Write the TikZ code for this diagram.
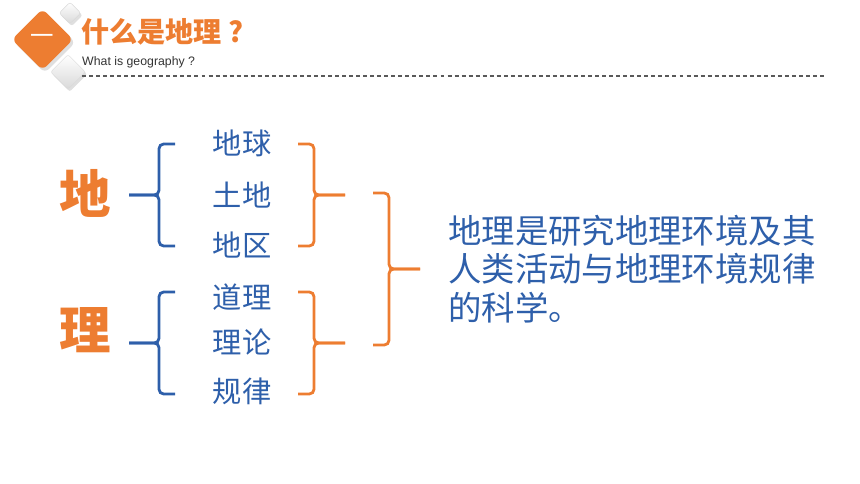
\documentclass[tikz,border=0pt]{standalone}
\usepackage{fontspec}
\setmainfont{Liberation Sans}
\newfontfamily\cjk{Noto Sans CJK SC}
\usepackage{tikz}
\usetikzlibrary{shadows}
\definecolor{geoorange}{HTML}{ED7D31}
\definecolor{geoblue}{HTML}{2E5FAA}
\tikzset{
every picture/.style={x=0.03cm, y=-0.03cm},
bluebr/.style={draw=geoblue, line width=2.4pt, rounded corners=4pt},
orangebr/.style={draw=geoorange, line width=2.4pt, rounded corners=4pt},
item/.style={text=geoblue, font=\cjk\fontsize{25}{28}\selectfont, inner sep=0pt},
big/.style={text=geoorange, font=\cjk\bfseries\fontsize{44}{48}\selectfont, inner sep=0pt},
gem/.style={rectangle, rotate=45, rounded corners=2pt, draw=gray!30, top color=white, bottom color=gray!30,
  drop shadow={opacity=0.25, shadow xshift=1.5pt, shadow yshift=-2pt}}
}

\begin{document}
\begin{tikzpicture}
      \useasboundingbox (0,0) rectangle (860,484);
      \node[gem, minimum size=13pt] (gem1) at (70,13) {};
      \node[gem, minimum size=21pt] (gem2) at (68,72) {};
      \node[rectangle, rotate=45, minimum size=37pt, rounded corners=5pt, fill=geoorange,
        drop shadow={opacity=0.25, shadow xshift=2pt, shadow yshift=-2.5pt}] (tag) at (42.5,39.5) {};
      \node[text=white, font=\cjk\fontsize{20}{20}\selectfont, inner sep=0pt] (tagnum) at (tag.center) {一};
      \node[anchor=west, text=geoorange, font=\cjk\bfseries\fontsize{24}{26}\selectfont, inner sep=0pt] (title) at (81,32) {什么是地理 ?};
      \node[anchor=west, text=black!80, font=\fontsize{10.5}{12}\selectfont, inner sep=0pt] (sub) at (82,62) {What is geography ?};
      \coordinate (dashend) at (827,76);
      \draw[gray!70!black, line width=1pt, dash pattern=on 3.4pt off 2.6pt] (sub.west |- dashend) -- (dashend);
      \node[big] (di) at (85,193) {地};
      \node[big] (li) at (85,330) {理};
      \foreach \name/\t/\y in {d1/地球/143, d2/土地/195, d3/地区/245, l1/道理/297, l2/理论/342, l3/规律/391} {
        \node[item] (\name) at (242,\y) {\t};
      }
      \foreach \c in {195,343} {
        \draw[bluebr] (175,\c-51) -- (159,\c-51) -- (159,\c) -- (129,\c);
        \draw[bluebr] (175,\c+51) -- (159,\c+51) -- (159,\c) -- (129,\c);
        \draw[orangebr] (298,\c-51) -- (314,\c-51) -- (314,\c) -- (345,\c);
        \draw[orangebr] (298,\c+51) -- (314,\c+51) -- (314,\c) -- (345,\c);
      }
      \draw[orangebr] (373,193) -- (389,193) -- (389,269) -- (420,269);
      \draw[orangebr] (373,345) -- (389,345) -- (389,269) -- (420,269);
      \node[anchor=west, text=geoblue, font=\cjk\fontsize{28.5}{33}\selectfont, align=left, inner sep=0pt] (def) at (448,269)
        {地理是研究地理环境及其\\人类活动与地理环境规律\\的科学。};
    \end{tikzpicture}
\end{document}
